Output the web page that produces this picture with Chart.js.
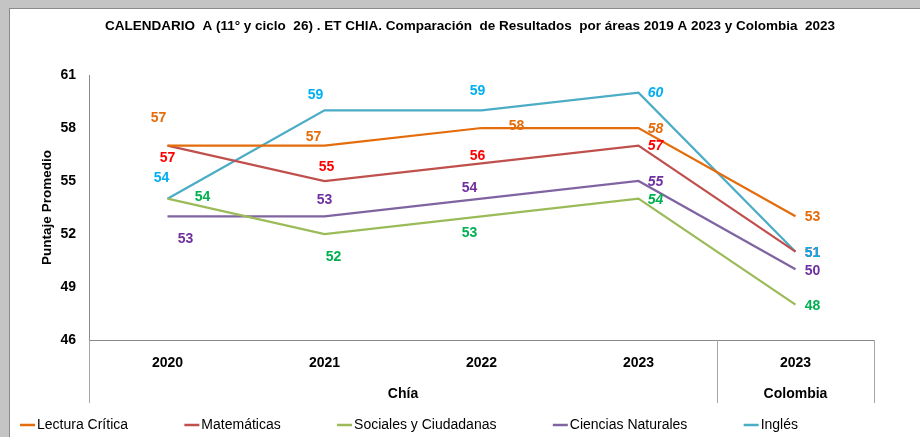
<!DOCTYPE html>
<html>
<head>
<meta charset="utf-8">
<script src="https://cdn.jsdelivr.net/npm/chart.js@4.4.0/dist/chart.umd.min.js"></script>
<style>
  html, body { margin: 0; padding: 0; }
  body { width: 920px; height: 437px; background: #c4c4c4; position: relative; overflow: hidden; }
  #frame { position: absolute; left: 9px; top: 8px; width: 910px; height: 428px; background: #fff;
           border-left: 1px solid #8a8a8a; border-top: 1px solid #8a8a8a; }
  canvas { display: block; }
</style>
</head>
<body>
<div id="frame"><canvas id="myChart" width="910" height="428"></canvas></div>
<script>
'use strict';

// categories (two levels)
var categories = ['2020', '2021', '2022', '2023', '2023'];
var groups = ['Chía', 'Chía', 'Chía', 'Chía', 'Colombia'];
var yTicks = [46, 49, 52, 55, 58, 61];

// series
var seriesNames = ['Lectura Crítica', 'Matemáticas', 'Sociales y Ciudadanas', 'Ciencias Naturales', 'Inglés'];
var lectura = [57, 57, 58, 58, 53];
var matematicas = [57, 55, 56, 57, 51];
var sociales = [54, 52, 53, 54, 48];
var ciencias = [53, 53, 54, 55, 50];
var ingles = [54, 59, 59, 60, 51];

var chartTitle = 'CALENDARIO  A (11° y ciclo  26) . ET CHIA. Comparación  de Resultados  por áreas 2019 A 2023 y Colombia  2023';

var FONT = "'Liberation Sans', Arial, sans-serif";
var lineColors = ['#E46C0A', '#C0504D', '#9BBB59', '#8064A2', '#4BACC6'];
var labelColors = ['#E46C0A', '#FF0000', '#00B050', '#7030A0', '#00B0F0'];
//label offsets from the point [dx, dy]
var labelOffsets = [
  [[-9, -28], [-11, -9], [35, -2], [17, 1], [17, 1]],
  [[0, 12], [2, -14], [-4, -7], [17, 0], [17, 1]],
  [[35, -2], [9, 23], [-12, 17], [17, 1], [17, 1]],
  [[18, 23], [0, -16], [-12, -11], [17, 1], [17, 2]],
  [[-6, -21], [-9, -15], [-4, -19], [17, 0], [17, 1]]
];
var italicIndex = 3;

var seriesValues = [lectura, matematicas, sociales, ciencias, ingles];

// title, centred on the whole picture
var topTitle = {
  id: 'topTitle',
  afterDraw: function (chart) {
    var ctx = chart.ctx;
    ctx.save();
    ctx.font = 'bold 13.5px ' + FONT;
    ctx.fillStyle = '#000';
    ctx.textAlign = 'center';
    ctx.textBaseline = 'middle';
    ctx.fillText(chartTitle, chart.width / 2 + 5, 17);
    ctx.restore();
  }
};

// value labels next to the points
var valueLabels = {
  id: 'valueLabels',
  afterDatasetsDraw: function (chart) {
    var ctx = chart.ctx;
    ctx.save();
    ctx.textAlign = 'center';
    ctx.textBaseline = 'middle';
    chart.data.datasets.forEach(function (ds, i) {
      var meta = chart.getDatasetMeta(i);
      meta.data.forEach(function (pt, j) {
        var off = labelOffsets[i][j];
        ctx.font = (j === italicIndex ? 'italic ' : '') + 'bold 14px ' + FONT;
        ctx.fillStyle = labelColors[i];
        ctx.fillText(String(ds.data[j]), pt.x + off[0], pt.y + off[1]);
      });
    });
    ctx.restore();
  }
};

// second level of the category axis + separators
var groupAxis = {
  id: 'groupAxis',
  afterDraw: function (chart) {
    var ctx = chart.ctx, x = chart.scales.x, area = chart.chartArea;
    var bottom = area.bottom + 63;
    ctx.save();
    ctx.strokeStyle = '#a6a6a6';
    ctx.lineWidth = 1;
    var start = 0;
    var edges = [area.left];
    for (var i = 1; i <= groups.length; i++) {
      if (i === groups.length || groups[i] !== groups[start]) {
        var right = i === groups.length ? area.right :
          (x.getPixelForValue(i - 1) + x.getPixelForValue(i)) / 2;
        var left = edges[edges.length - 1];
        edges.push(right);
        ctx.font = 'bold 14px ' + FONT;
        ctx.fillStyle = '#000';
        ctx.textAlign = 'center';
        ctx.textBaseline = 'middle';
        ctx.fillText(groups[start], (left + right) / 2, area.bottom + 54);
        start = i;
      }
    }
    edges.forEach(function (ex) {
      var px = Math.round(ex) + 0.5;
      ctx.beginPath();
      ctx.moveTo(px, area.bottom);
      ctx.lineTo(px, bottom);
      ctx.stroke();
    });
    ctx.restore();
  }
};

// legend with a short line for each series
var lineLegend = {
  id: 'lineLegend',
  afterDraw: function (chart) {
    var ctx = chart.ctx;
    ctx.save();
    ctx.font = '14px ' + FONT;
    ctx.textBaseline = 'middle';
    var y = 416, x0 = 10, span = 778, sw = 15;
    var widths = chart.data.datasets.map(function (ds) { return sw + 2 + ctx.measureText(ds.label).width; });
    var gap = (span - widths.reduce(function (a, b) { return a + b; }, 0)) / (widths.length - 1);
    var x = x0;
    chart.data.datasets.forEach(function (ds, i) {
      ctx.strokeStyle = ds.borderColor;
      ctx.lineWidth = 2.5;
      ctx.beginPath();
      ctx.moveTo(x, y);
      ctx.lineTo(x + sw, y);
      ctx.stroke();
      ctx.fillStyle = '#000';
      ctx.fillText(ds.label, x + sw + 2, y);
      x += widths[i] + gap;
    });
    ctx.restore();
  }
};

var ctx = document.getElementById('myChart').getContext('2d');
var myChart = new Chart(ctx, {
  type: 'line',
  data: {
    labels: categories,
    datasets: seriesValues.map(function (vals, i) {
      return {
        label: seriesNames[i],
        data: vals,
        borderColor: lineColors[i],
        backgroundColor: lineColors[i],
        borderWidth: 2.25,
        pointRadius: 0,
        tension: 0,
        fill: false
      };
    })
  },
  options: {
    responsive: false,
    animation: false,
    layout: { padding: { left: 20, right: 46, top: 66, bottom: 34 } },
    plugins: {
      legend: { display: false },
      tooltip: { enabled: false },
      title: { display: false }
    },
    scales: {
      x: {
        offset: true,
        grid: { display: false, drawTicks: false },
        border: { display: true, color: '#898989', width: 1 },
        ticks: { color: '#000', font: { family: FONT, size: 14, weight: 'bold' }, padding: 15, maxRotation: 0 },
        afterFit: function (s) { s.height = 63; }
      },
      y: {
        min: 46,
        max: 61,
        afterBuildTicks: function (s) { s.ticks = yTicks.map(function (v) { return { value: v }; }); },
        grid: { display: false, drawTicks: false },
        border: { display: true, color: '#898989', width: 1 },
        ticks: { color: '#000', font: { family: FONT, size: 14, weight: 'bold' }, padding: 13 },
        title: {
          display: true,
          text: 'Puntaje Promedio',
          color: '#000',
          font: { family: FONT, size: 13.5, weight: 'bold' },
          padding: { top: 9, bottom: 0 }
        },
        afterFit: function (s) { s.width = 59; }
      }
    }
  },
  plugins: [valueLabels, groupAxis, lineLegend, topTitle]
});
</script>
</body>
</html>
